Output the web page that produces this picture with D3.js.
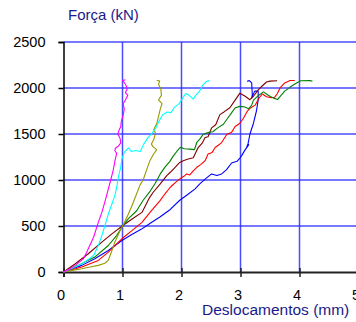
<!DOCTYPE html>
<html><head><meta charset="utf-8">
<script src="https://cdn.jsdelivr.net/npm/d3@7"></script>
<style>
html,body{margin:0;padding:0;background:#fff;}
svg{display:block;font-family:"Liberation Sans",Arial,sans-serif;}
</style></head>
<body><svg id="c" width="356" height="322"></svg>
<script>
const xTicks = [0,1,2,3,4,5];
const yTicks = [0,500,1000,1500,2000,2500];
const yTitle = "Força (kN)";
const xTitle = "Deslocamentos (mm)";

const magenta = [[0,0],[0.1,30],[0.2,72],[0.34,145],[0.42,253],[0.51,378],[0.59,540],[0.65,648],[0.7,760],[0.75,880],[0.8,1000],[0.84,1100],[0.87,1200],[0.9,1290],[0.87,1320],[0.88,1345],[0.93,1370],[0.97,1400],[0.96,1450],[0.92,1500],[0.94,1540],[0.97,1580],[0.98,1640],[1.01,1700],[1.03,1770],[1.01,1830],[1.05,1870],[1.09,1920],[1.05,1950],[1.08,1990],[1.06,2030],[1.03,2060],[1.0,2080],[1.05,2090]];
const cyan = [[0,0],[0.15,40],[0.31,90],[0.45,150],[0.51,180],[0.59,288],[0.65,396],[0.71,522],[0.76,630],[0.81,720],[0.87,830],[0.91,950],[0.93,1030],[0.97,1140],[0.99,1230],[1.03,1300],[1.1,1350],[1.15,1310],[1.22,1320],[1.3,1310],[1.36,1390],[1.42,1450],[1.5,1510],[1.56,1560],[1.62,1640],[1.68,1710],[1.76,1740],[1.82,1730],[1.88,1790],[1.96,1830],[2.03,1900],[2.07,1940],[2.13,1920],[2.2,1880],[2.24,1920],[2.3,1960],[2.36,2030],[2.42,2070],[2.47,2080]];
const olive = [[0,0],[0.15,18],[0.31,36],[0.45,55],[0.59,72],[0.7,95],[0.76,130],[0.79,180],[0.83,250],[0.87,324],[0.96,450],[1.02,522],[1.1,630],[1.16,720],[1.24,850],[1.3,950],[1.35,1000],[1.41,1112],[1.46,1203],[1.52,1274],[1.58,1330],[1.52,1360],[1.49,1390],[1.53,1440],[1.56,1510],[1.53,1550],[1.58,1610],[1.61,1690],[1.64,1770],[1.67,1830],[1.61,1870],[1.66,1920],[1.65,1990],[1.61,2040],[1.63,2075],[1.58,2085]];
const green = [[0,0],[0.25,72],[0.53,162],[0.76,288],[0.9,396],[0.99,486],[1.1,580],[1.24,666],[1.35,780],[1.47,880],[1.55,960],[1.64,1066],[1.72,1140],[1.8,1200],[1.86,1260],[1.92,1310],[1.98,1355],[2.05,1340],[2.14,1336],[2.22,1330],[2.26,1410],[2.31,1445],[2.37,1498],[2.45,1515],[2.53,1525],[2.62,1569],[2.71,1606],[2.77,1660],[2.83,1714],[2.91,1785],[2.99,1800],[3.06,1797],[3.14,1775],[3.19,1814],[3.22,1868],[3.31,1922],[3.39,1958],[3.47,1922],[3.56,1890],[3.63,1876],[3.68,1915],[3.75,1966],[3.84,2010],[3.95,2055],[4.02,2078],[4.18,2080],[4.22,2074]];
const brown = [[0,0],[0.2,90],[0.42,198],[0.65,324],[0.82,414],[0.99,497],[1.15,570],[1.33,648],[1.45,800],[1.52,867],[1.64,958],[1.75,1048],[1.81,1084],[1.88,1130],[1.97,1191],[2.03,1210],[2.1,1225],[2.2,1242],[2.28,1350],[2.35,1400],[2.4,1461],[2.45,1470],[2.51,1566],[2.58,1600],[2.65,1711],[2.72,1740],[2.82,1785],[2.9,1860],[2.99,1944],[3.08,1910],[3.16,1873],[3.22,1910],[3.3,1980],[3.38,2030],[3.44,2065],[3.5,2075],[3.62,2078]];
const red = [[0,0],[0.31,54],[0.59,126],[0.76,216],[0.9,306],[1.02,378],[1.16,450],[1.33,540],[1.47,651],[1.64,778],[1.72,850],[1.81,921],[1.9,975],[1.97,1012],[2.04,1040],[2.09,1066],[2.14,1055],[2.2,1100],[2.26,1138],[2.33,1170],[2.4,1210],[2.45,1282],[2.52,1300],[2.57,1353],[2.63,1380],[2.68,1407],[2.77,1498],[2.85,1520],[2.91,1581],[2.99,1617],[3.05,1671],[3.11,1743],[3.16,1779],[3.25,1814],[3.31,1887],[3.37,1935],[3.44,1905],[3.52,1895],[3.58,1900],[3.62,1935],[3.67,2001],[3.75,2055],[3.84,2081],[3.92,2081]];
const blue = [[0,0],[0.31,72],[0.53,145],[0.76,234],[0.99,342],[1.15,405],[1.33,469],[1.47,530],[1.64,600],[1.81,680],[1.97,780],[2.1,840],[2.23,904],[2.31,958],[2.42,1020],[2.51,1066],[2.6,1048],[2.68,1066],[2.76,1110],[2.85,1185],[2.94,1203],[2.99,1239],[3.02,1265],[3.08,1330],[3.14,1385],[3.1,1345],[3.13,1400],[3.16,1500],[3.22,1617],[3.27,1750],[3.3,1870],[3.3,1966],[3.24,1966],[3.19,1890],[3.2,1930],[3.19,2055],[3.15,2080],[3.11,2074]];

const series = [
  {data: blue, color: "#0000ff"},
  {data: red, color: "#ff0000"},
  {data: brown, color: "#800000"},
  {data: green, color: "#008000"},
  {data: olive, color: "#999900"},
  {data: cyan, color: "#00ffff"},
  {data: magenta, color: "#ff00ff"}
];

const svg = d3.select("#c");
const x = d3.scaleLinear().domain([0,5]).range([63.5,358.5]);
const y = d3.scaleLinear().domain([0,2500]).range([272,42]);

// grid
const grid = svg.append("g");
grid.selectAll("line.h").data(yTicks.filter(d=>d>0)).enter().append("line")
  .attr("x1", x(0)).attr("x2", 356).attr("y1", d=>y(d)).attr("y2", d=>y(d))
  .attr("stroke", "#2b2bff").attr("stroke-width", 1.5).attr("stroke-opacity", 0.85);
grid.selectAll("line.v").data(xTicks.filter(d=>d>0)).enter().append("line")
  .attr("x1", d=>x(d)).attr("x2", d=>x(d)).attr("y1", y(2500)).attr("y2", y(0))
  .attr("stroke", "#2b2bff").attr("stroke-width", 1.5).attr("stroke-opacity", 0.85);

// axes
const yAxis = d3.axisLeft(y).tickValues(yTicks).tickSize(5).tickPadding(13).tickFormat(d3.format("d"));
const gy = svg.append("g").attr("transform", `translate(${x(0)},0)`).call(yAxis);
gy.select(".domain").attr("stroke", "#000").attr("stroke-width", 1.5);
gy.selectAll(".tick line").attr("stroke", "#000").attr("stroke-width", 1.5);
gy.selectAll(".tick text").attr("font-size", 14.5).attr("fill", "#000").attr("font-family", "Liberation Sans, Arial, sans-serif");

const xAxis = d3.axisBottom(x).tickValues(xTicks).tickSize(5).tickPadding(13).tickFormat(d3.format("d"));
const gx = svg.append("g").attr("transform", `translate(0,${y(0)})`).call(xAxis);
gx.select(".domain").attr("stroke", "#222").attr("stroke-width", 2);
gx.selectAll(".tick line").attr("stroke", "#222").attr("stroke-width", 1.5).attr("y1", -4);
gx.selectAll(".tick text").attr("font-size", 14.5).attr("fill", "#000").attr("dx", -3).attr("font-family", "Liberation Sans, Arial, sans-serif");

// lines
const line = d3.line().x(d=>x(d[0])).y(d=>y(d[1]));
svg.append("g").selectAll("path").data(series).enter().append("path")
  .attr("d", d=>line(d.data)).attr("fill", "none")
  .attr("stroke", d=>d.color).attr("stroke-width", 1.1).attr("stroke-linejoin", "round");

// titles
svg.append("text").attr("x", 68).attr("y", 20).attr("font-size", 15).attr("fill", "#1a1a8a").text(yTitle);
svg.append("text").attr("x", 202).attr("y", 315).attr("font-size", 15.5).attr("fill", "#1a1a8a").text(xTitle);
</script></body></html>
